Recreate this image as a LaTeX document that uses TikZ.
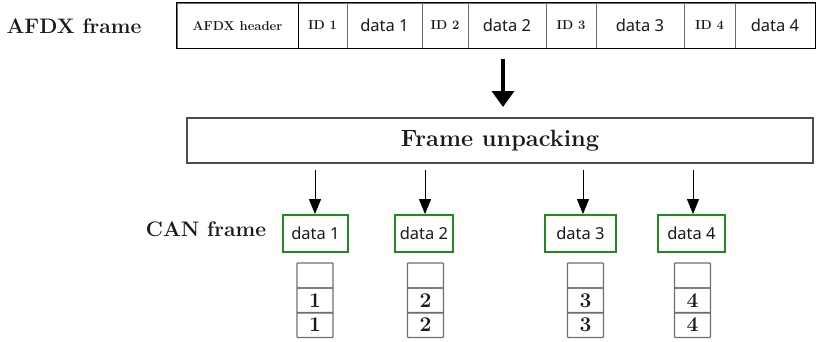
\documentclass[tikz,border=0pt]{standalone}
\usepackage{fontspec}
\newfontfamily\datafont{Noto Sans}
\usetikzlibrary{arrows.meta}
\definecolor{txt}{RGB}{25,25,30}
\definecolor{cgreen}{RGB}{30,140,30}
\definecolor{cgray}{RGB}{110,110,110}
\tikzset{
  lbl/.style={font=\fontsize{21}{24}\selectfont\bfseries, text=txt, inner sep=0},
  cell/.style={draw=cgray, line width=1pt, inner sep=0, minimum height=45, text=txt},
  hdrtxt/.style={font=\fontsize{13}{15}\selectfont\bfseries},
  idtxt/.style={font=\fontsize{13}{15}\selectfont\bfseries},
  datatxt/.style={font=\datafont\fontsize{16.5}{19}\selectfont},
  unpack/.style={draw=black!70, line width=1.2pt, inner sep=0, minimum width=626, minimum height=45,
    font=\fontsize{23.5}{27}\selectfont\bfseries, text=txt},
  canbox/.style={draw=cgreen, line width=1.8pt, inner sep=0, minimum height=37, text=txt,
    font=\datafont\fontsize{16.5}{19}\selectfont},
  stk/.style={draw=cgray, line width=1.2pt, rounded corners=0.8pt, inner sep=0, minimum width=36, minimum height=25, text=txt,
    font=\fontsize{21}{24}\selectfont\bfseries},
  smallarr/.style={draw=black, line width=0.9pt, -{Triangle[length=15pt,width=12pt]}},
  bigarr/.style={draw=black, line width=3.6pt, -{Triangle[length=16pt,width=22pt]}},
}
\begin{document}
\begin{tikzpicture}[x=1pt,y=-1pt]
\useasboundingbox (0,0) rectangle (816,341);
% labels
\node[lbl] (afdxlbl) at (74,26) {AFDX frame};
\node[lbl] (canlbl) at (206,229) {CAN frame};
% AFDX frame cells
\node[cell, minimum width=121, hdrtxt] (hdr) at (237.5,25.5) {AFDX header};
\node[cell, minimum width=49, idtxt] (id1) at (322.5,25.5) {ID 1};
\node[cell, minimum width=75, datatxt] (d1) at (384.5,25.5) {data 1};
\node[cell, minimum width=46, idtxt] (id2) at (445,25.5) {ID 2};
\node[cell, minimum width=78, datatxt] (d2) at (507,25.5) {data 2};
\node[cell, minimum width=50, idtxt] (id3) at (571,25.5) {ID 3};
\node[cell, minimum width=88, datatxt] (d3) at (640,25.5) {data 3};
\node[cell, minimum width=51, idtxt] (id4) at (709.5,25.5) {ID 4};
\node[cell, minimum width=80, datatxt] (d4) at (775,25.5) {data 4};
\draw[black, line width=1.6pt] (hdr.north west) rectangle (d4.south east);
\draw[black, line width=1.6pt] (hdr.north east) -- (hdr.south east);
% big arrow
\coordinate (bigA) at (503,59);
\coordinate (bigB) at (503,107);
\draw[bigarr] (bigA) -- (bigB);
% unpacking
\node[unpack] (unp) at (500,140.5) {Frame unpacking};
% CAN boxes
\node[canbox, minimum width=65] (c1) at (315.5,233.5) {data 1};
\node[canbox, minimum width=58] (c2) at (424,233.5) {data 2};
\node[canbox, minimum width=71] (c3) at (580.5,233.5) {data 3};
\node[canbox, minimum width=67] (c4) at (691.5,233.5) {data 4};
% small arrows
\foreach \i/\x in {1/315,2/425,3/583,4/693}{
  \coordinate (s\i) at (\x,170);
  \draw[smallarr] (s\i) -- (s\i |- c\i.north);
}
% stacks
\foreach \i/\x in {1/315,2/425.5,3/585.5,4/692.5}{
  \node[stk] (t\i a) at (\x,275.5) {};
  \node[stk] (t\i b) at (\x,300.5) {\i};
  \node[stk] (t\i c) at (\x,325) {\i};
}
\end{tikzpicture}
\end{document}
